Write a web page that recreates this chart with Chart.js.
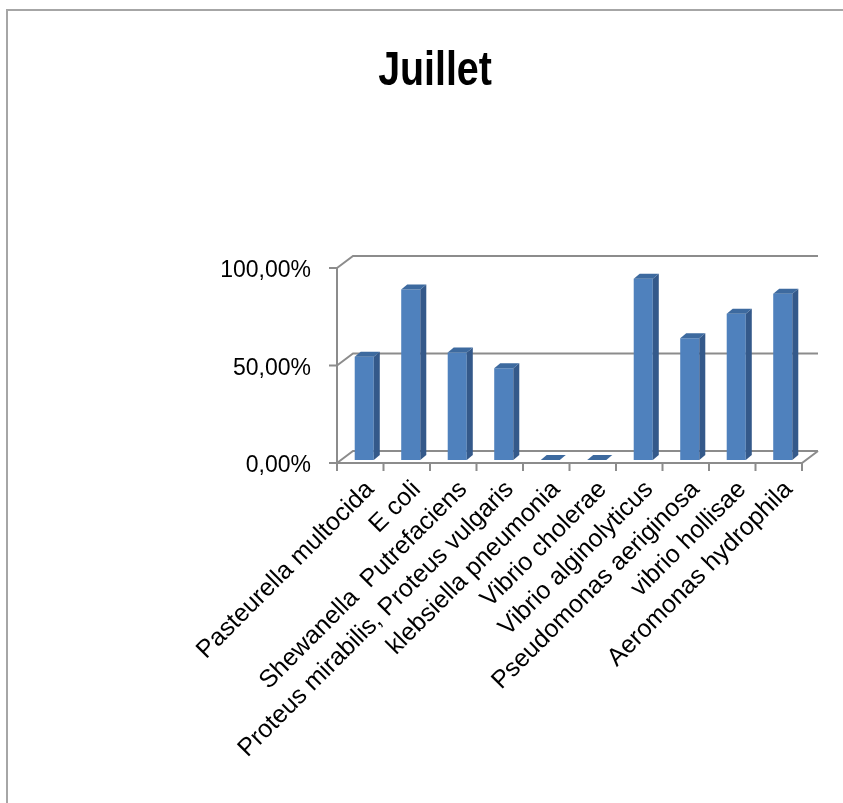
<!DOCTYPE html>
<html>
<head>
<meta charset="utf-8">
<script src="https://cdn.jsdelivr.net/npm/chart.js@4.4.1/dist/chart.umd.min.js"></script>
<style>
    html, body { margin: 0; padding: 0; background: #fff; overflow: hidden; }
    #frame {
        position: absolute;
        left: 6px;
        top: 9px;
        border-left: 2px solid #a6a6a6;
        border-top: 2px solid #a6a6a6;
        background: #fff;
    }
    canvas { display: block; }
</style>
</head>
<body>
<div id="frame">
    <canvas id="js--chart" width="850" height="800"></canvas>
</div>
<script>
// Juillet - bactéries

const titre = "Juillet";

const labels = [
    "Pasteurella multocida",
    "E coli",
    "Shewanella  Putrefaciens",
    "Proteus mirabilis, Proteus vulgaris",
    "klebsiella pneumonia",
    "Vibrio cholerae",
    "Vibrio alginolyticus",
    "Pseudomonas aeriginosa",
    "vibrio hollisae",
    "Aeromonas hydrophila",
];

const pourcentages = [0.529, 0.875, 0.551, 0.471, 0, 0, 0.929, 0.625, 0.75, 0.853];

const yTicks = [0, 0.5, 1];

// petit decalage pour faire l'effet 3D comme dans Excel
const front = {x: -4, y: 3};
const back = {x: 12, y: -9};
const depth = {x: 6, y: -5};

function formatPct(v){
    return (v * 100).toFixed(2).replace(".", ",") + "%";
}

const wallPlugin = {
    id: "wall",
    beforeDatasetsDraw(chart){
        const ctx = chart.ctx;
        const area = chart.chartArea;
        const ys = chart.scales.y;
        const xs = chart.scales.x;
        const y0 = ys.getPixelForValue(0);
        const y1 = ys.getPixelForValue(1);

        ctx.save();
        ctx.strokeStyle = "#8c8c8c";
        ctx.lineWidth = 2;
        ctx.lineCap = "butt";

        yTicks.forEach(function(v){
            const py = ys.getPixelForValue(v);
            ctx.beginPath();
            // ligne du fond
            ctx.moveTo(area.left + front.x, py + front.y);
            ctx.lineTo(area.left + back.x, py + back.y);
            ctx.lineTo(area.right + back.x, py + back.y);
            // petit tick a gauche
            ctx.moveTo(area.left + front.x - 8, py + front.y);
            ctx.lineTo(area.left + front.x, py + front.y);
            ctx.stroke();
        });

        // axe vertical devant
        ctx.beginPath();
        ctx.moveTo(area.left + front.x, y1 + front.y);
        ctx.lineTo(area.left + front.x, y0 + front.y);
        // le sol
        ctx.lineTo(area.right + front.x, y0 + front.y);
        ctx.lineTo(area.right + back.x, y0 + back.y);
        ctx.stroke();

        // ticks des categories
        const catW = (area.right - area.left) / labels.length;
        ctx.beginPath();
        for (let i = 0; i <= labels.length; i++){
            const bx = xs.getPixelForTick(0) - catW / 2 + i * catW + front.x;
            ctx.moveTo(bx, y0 + front.y);
            ctx.lineTo(bx, y0 + front.y + 8);
        }
        ctx.stroke();
        ctx.restore();
    },
    afterDatasetsDraw(chart){
        const ctx = chart.ctx;
        const meta = chart.getDatasetMeta(0);

        ctx.save();
        meta.data.forEach(function(bar){
            const l = bar.x - bar.width / 2;
            const r = bar.x + bar.width / 2;
            const top = bar.y;
            const base = bar.base;

            // cote droit
            ctx.fillStyle = "#34598a";
            ctx.beginPath();
            ctx.moveTo(r, top);
            ctx.lineTo(r + depth.x, top + depth.y);
            ctx.lineTo(r + depth.x, base + depth.y);
            ctx.lineTo(r, base);
            ctx.closePath();
            ctx.fill();

            // dessus
            ctx.fillStyle = "#3d6a9f";
            ctx.beginPath();
            ctx.moveTo(l, top);
            ctx.lineTo(l + depth.x, top + depth.y);
            ctx.lineTo(r + depth.x, top + depth.y);
            ctx.lineTo(r, top);
            ctx.closePath();
            ctx.fill();
        });
        ctx.restore();
    },
    afterDraw(chart){
        // titre un peu resserre, comme Calibri gras
        const ctx = chart.ctx;
        ctx.save();
        ctx.fillStyle = "#000";
        ctx.font = "bold 48px 'Liberation Sans', Arial, sans-serif";
        ctx.textAlign = "center";
        ctx.textBaseline = "middle";
        ctx.translate(427, 61);
        ctx.scale(0.82, 1);
        ctx.fillText(titre, 0, 0);
        ctx.restore();
    }
};

const data = {
    labels: labels,
    datasets: [
        {
            label: titre,
            data: pourcentages,
            backgroundColor: "#4f81bd",
            borderWidth: 0,
            categoryPercentage: 1,
            barPercentage: 0.41,
        }
    ]
};

const config = {
    type: "bar",
    data: data,
    options: {
        responsive: false,
        animation: false,
        events: [],
        layout: {
            padding: {top: 254, right: 52, bottom: 0, left: 0}
        },
        plugins: {
            legend: {display: false},
            title: {display: false},
            tooltip: {enabled: false}
        },
        scales: {
            x: {
                grid: {display: false},
                border: {display: false},
                ticks: {
                    autoSkip: false,
                    maxRotation: 45,
                    minRotation: 45,
                    padding: 7,
                    labelOffset: 6,
                    color: "#000",
                    font: {family: "'Liberation Sans', Arial, sans-serif", size: 25}
                },
                afterFit(scale){
                    scale.height = 351;
                }
            },
            y: {
                min: 0,
                max: 1,
                grid: {display: false},
                border: {display: false},
                afterBuildTicks(scale){
                    scale.ticks = yTicks.map(function(v){ return {value: v}; });
                },
                ticks: {
                    padding: 22,
                    labelOffset: 6,
                    color: "#000",
                    font: {family: "'Liberation Sans', Arial, sans-serif", size: 23},
                    callback: function(v){ return formatPct(v); }
                },
                afterFit(scale){
                    scale.width = 333;
                }
            }
        }
    },
    plugins: [wallPlugin]
};

new Chart(document.getElementById("js--chart"), config);
</script>
</body>
</html>
